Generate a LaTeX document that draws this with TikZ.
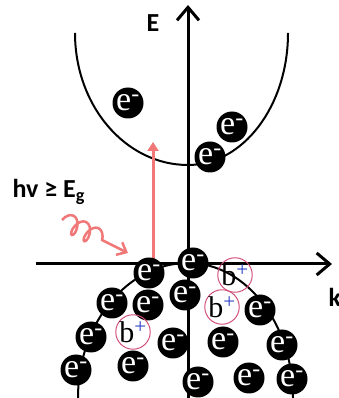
\documentclass[tikz,border=0pt]{standalone}
\usepackage{fontspec}
\setmainfont{Liberation Serif}
\newfontfamily\labelfont{Carlito}
\usetikzlibrary{arrows.meta, decorations.pathmorphing}
\definecolor{photon}{RGB}{240,120,120}
\definecolor{holering}{RGB}{210,80,120}
\definecolor{holeplus}{RGB}{40,60,200}

\begin{document}
\begin{tikzpicture}[
    x=1pt, y=1pt,
    axis/.style={line width=3pt, -{Straight Barb[length=13pt, width=22pt]}},
    band/.style={line width=2pt},
    electron/.style={
      circle, fill=black, minimum size=31pt, inner sep=0pt,
      text=white, font=\fontsize{34}{34}\selectfont},
    hole/.style={
      circle, draw=holering, line width=1pt,
      minimum size=32pt, inner sep=0pt, font=\fontsize{30}{30}\selectfont},
    axlabel/.style={font=\labelfont\bfseries\fontsize{26}{26}\selectfont},
]
\useasboundingbox (0,0) rectangle (339,398);

% ---- axes ----
\coordinate (ebot) at (188,0);
\coordinate (etop) at (188,393);
\coordinate (kleft) at (36,134);
\coordinate (kright) at (332,134);
\draw[axis] (ebot) -- (etop);
\draw[axis] (kleft) -- (kright);
\node[axlabel] (elab) at (153,375) {E};
\node[axlabel, anchor=west] (klab) at (325,101) {k};

% ---- bands ----
\draw[band] (75,365)
  arc[start angle=180, end angle=270, x radius=113, y radius=132]
  arc[start angle=270, end angle=360, x radius=100, y radius=132];
\draw[band] (78,0)
  arc[start angle=180, end angle=90, x radius=110, y radius=135]
  arc[start angle=90, end angle=0, x radius=105, y radius=135];

% ---- photon and excitation ----
\node[axlabel, anchor=west] (hv) at (9,206) {hv ≥ E\textsubscript{g}};
\coordinate (wstart) at (62,178);
\coordinate (whit) at (128,145);
\draw[photon, line width=2.5pt, -{Straight Barb[length=8pt, width=14pt]},
  decorate, decoration={coil, aspect=0.55, segment length=14pt,
  amplitude=9pt, post length=22pt}]
  (wstart) -- (whit);
\coordinate (exc) at (153,134);
\coordinate (exctop) at (153,256);
\draw[photon, line width=3pt, -{Triangle[length=9pt, width=11pt]}]
  (exc) -- (exctop);

% ---- conduction band electrons ----
\node[electron] (c1) at (128,295) {e\textsuperscript{-}};
\node[electron] (c2) at (232,271) {e\textsuperscript{-}};
\node[electron] (c3) at (210,241) {e\textsuperscript{-}};

% ---- valence band electrons ----
\node[electron] (v1)  at (149,125) {e\textsuperscript{-}};
\node[electron] (v2)  at (193,135) {e\textsuperscript{-}};
\node[electron] (v3)  at (112,95)  {e\textsuperscript{-}};
\node[electron] (v4)  at (148,93)  {e\textsuperscript{-}};
\node[electron] (v5)  at (185,103) {e\textsuperscript{-}};
\node[electron] (v6)  at (260,88)  {e\textsuperscript{-}};
\node[electron] (v7)  at (91,61)   {e\textsuperscript{-}};
\node[electron] (v8)  at (173,55)  {e\textsuperscript{-}};
\node[electron] (v9)  at (223,56)  {e\textsuperscript{-}};
\node[electron] (v10) at (282,53)  {e\textsuperscript{-}};
\node[electron] (v11) at (76,28)   {e\textsuperscript{-}};
\node[electron] (v12) at (133,32)  {e\textsuperscript{-}};
\node[electron] (v13) at (198,16)  {e\textsuperscript{-}};
\node[electron] (v14) at (249,20)  {e\textsuperscript{-}};
\node[electron] (v15) at (292,19)  {e\textsuperscript{-}};

% ---- holes ----
\node[hole] (h1) at (235,123) {b\textsuperscript{\color{holeplus}+}};
\node[hole] (h2) at (222,91)  {b\textsuperscript{\color{holeplus}+}};
\node[hole] (h3) at (133,66)  {b\textsuperscript{\color{holeplus}+}};

\end{tikzpicture}
\end{document}
